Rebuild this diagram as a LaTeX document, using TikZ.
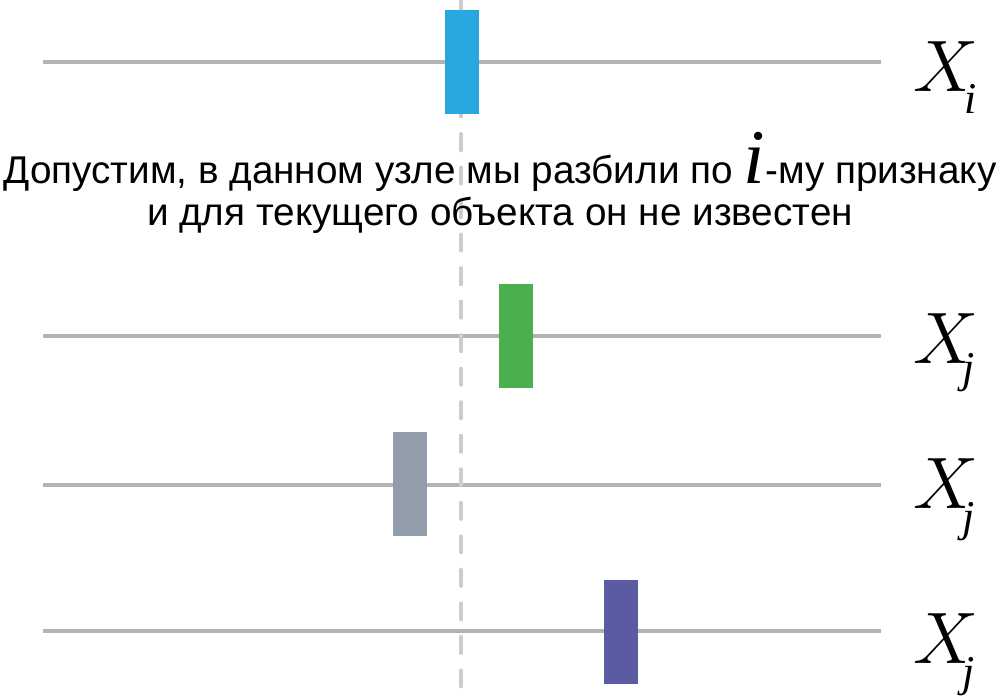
\documentclass[tikz,border=0pt]{standalone}
\usepackage{fontspec}
\setmainfont{Liberation Sans}
\newfontfamily\mathserif{Liberation Serif}
\definecolor{axisgray}{HTML}{B3B3B3}
\definecolor{dashgray}{HTML}{CCCCCC}
\definecolor{cblue}{HTML}{29A8E0}
\definecolor{cgreen}{HTML}{4BAE4F}
\definecolor{cgray}{HTML}{919DA8}
\definecolor{cpurple}{HTML}{5B5BA3}
\newcommand{\bigX}{$X$}
\begin{document}
\begin{tikzpicture}[x=0.01cm,y=-0.01cm,
  axisline/.style={draw=axisgray,line width=0.04cm},
  splitline/.style={draw=dashgray,line width=0.04cm,line cap=round,dash pattern=on 0.16cm off 0.175cm},
  bar/.style={minimum width=0.34cm,minimum height=1.04cm,inner sep=0pt,draw=none},
  varlabel/.style={font=\fontsize{20}{20}\selectfont,inner sep=0pt,anchor=base west},
  sublabel/.style={font=\mathserif\itshape\fontsize{12.5}{12.5}\selectfont,inner sep=0pt,anchor=base west},
  caption/.style={font=\fontsize{11}{11}\selectfont,inner sep=0pt,anchor=base}]
\useasboundingbox (0,0) rectangle (1000,700);
% axes
\coordinate (a1s) at (43,62);  \coordinate (a1e) at (881,62);
\coordinate (a2s) at (43,336); \coordinate (a2e) at (881,336);
\coordinate (a3s) at (43,485); \coordinate (a3e) at (881,485);
\coordinate (a4s) at (43,631); \coordinate (a4e) at (881,631);
\draw[axisline] (a1s) -- (a1e);
\draw[axisline] (a2s) -- (a2e);
\draw[axisline] (a3s) -- (a3e);
\draw[axisline] (a4s) -- (a4e);
% split line
\coordinate (ds) at (461,0); \coordinate (de) at (461,702);
\draw[splitline] (ds) -- (de);
% bars
\node[bar,fill=cblue] (b1) at (462,62) {};
\node[bar,fill=cgreen] (b2) at (516,336) {};
\node[bar,fill=cgray] (b3) at (410,484) {};
\node[bar,fill=cpurple] (b4) at (621,632) {};
% labels
\node[varlabel] (l1) at (913,91) {\bigX};
\node[sublabel] (s1) at (964,113) {i};
\node[varlabel] (l2) at (913,363) {\bigX};
\node[sublabel] (s2) at (962,382) {j};
\node[varlabel] (l3) at (913,508) {\bigX};
\node[sublabel] (s3) at (962,531) {j};
\node[varlabel] (l4) at (913,663) {\bigX};
\node[sublabel] (s4) at (962,686) {j};
% caption
\node[caption] (t1) at (500,183) {Допустим, в данном узле мы разбили по {\mathserif\itshape\fontsize{22}{22}\selectfont i}-му признаку};
\node[caption] (t2) at (500,225) {и для текущего объекта он не известен};
\end{tikzpicture}
\end{document}
